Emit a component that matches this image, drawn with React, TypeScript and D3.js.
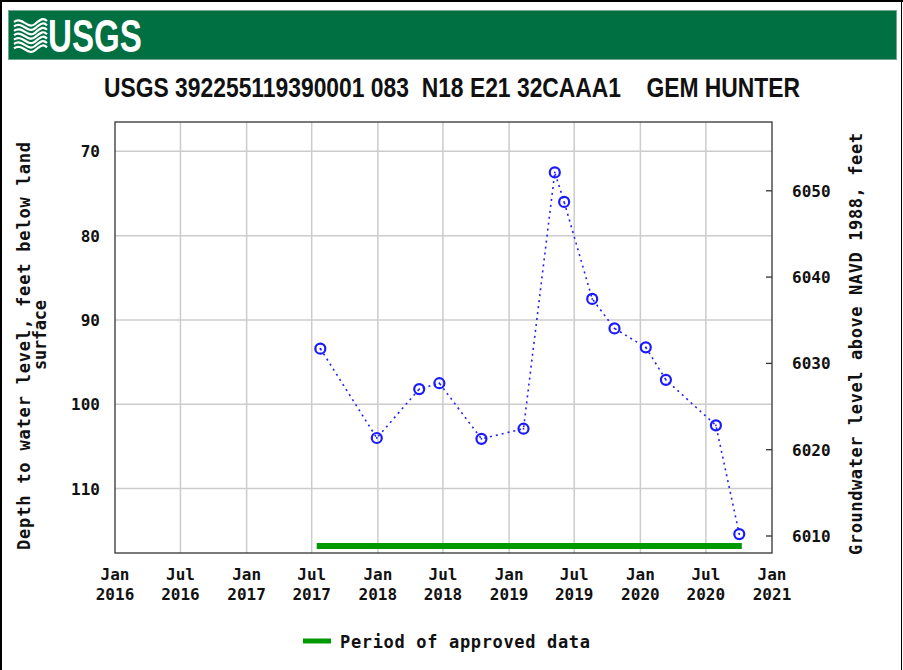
import * as d3 from "d3";

const dates = [
  "2017-07-25", "2017-12-29", "2018-04-26", "2018-06-21", "2018-10-16",
  "2019-02-10", "2019-05-08", "2019-06-03", "2019-08-20", "2019-10-21",
  "2020-01-16", "2020-03-12", "2020-07-29", "2020-10-02",
];
const depths = [
  93.4, 104.0, 98.2, 97.5, 104.1,
  102.9, 72.5, 76.0, 87.5, 91.0,
  93.25, 97.1, 102.5, 115.4,
];
const approvedPeriod = ["2017-07-15", "2020-10-09"];
const xTicks = [
  "2016-01-01", "2016-07-01", "2017-01-01", "2017-07-01", "2018-01-01", "2018-07-01",
  "2019-01-01", "2019-07-01", "2020-01-01", "2020-07-01", "2021-01-01",
];
const leftTicks = [70, 80, 90, 100, 110];
const rightTicks = [6010, 6020, 6030, 6040, 6050];

const title = "USGS 392255119390001 083  N18 E21 32CAAA1    GEM HUNTER";
const width = 903;
const height = 670;
const margin = { top: 122, right: 131, bottom: 117, left: 115 };
const mono = "'DejaVu Sans Mono', monospace";
const sans = "'Liberation Sans', Arial, sans-serif";

const App = () => {
  const parse = d3.timeParse("%Y-%m-%d");
  const innerW = width - margin.left - margin.right;
  const innerH = height - margin.top - margin.bottom;

  const x = d3.scaleTime()
    .domain([parse("2016-01-01")!, parse("2021-01-01")!])
    .range([0, innerW]);
  const y = d3.scaleLinear().domain([66.52, 117.64]).range([0, innerH]);
  const y2 = d3.scaleLinear().domain([6057.97, 6008.03]).range([0, innerH]);

  const points = dates.map((d, i) => ({ date: parse(d)!, depth: depths[i] }));
  const line = d3.line<{ date: Date; depth: number }>()
    .x(d => x(d.date))
    .y(d => y(d.depth));
  const fmtMon = d3.timeFormat("%b");
  const fmtYear = d3.timeFormat("%Y");

  return (
    <svg width={width} height={height} style={{ position: "absolute", left: 0, top: 0, background: "#fff" }}>
      {/* outer frame */}
      <line x1={0} y1={1} x2={width} y2={1} stroke="#000" strokeWidth={2} />
      <line x1={1} y1={0} x2={1} y2={height} stroke="#000" strokeWidth={2} />
      <line x1={901.5} y1={0} x2={901.5} y2={height} stroke="#000" strokeWidth={1} />

      {/* header */}
      <rect x={8.5} y={10.5} width={888} height={49} fill="#006f41" stroke="#6fa88a" strokeWidth={1} />
      <g fill="none" stroke="#fff" strokeWidth={2.2}>
        {[0, 1, 2, 3, 4, 5, 6].map(i => (
          <path key={i}
            d={`M14,${22 + i * 4.4} C22,${16 + i * 4.4} 28,${30 + i * 4.4} 35,${24 + i * 4.4} S44,${18 + i * 4.4} 47,${21 + i * 4.4}`} />
        ))}
      </g>
      <text transform="translate(48,52) scale(0.72,1)" fill="#fff" fontFamily={sans}
        fontWeight="bold" fontSize={46}>USGS</text>

      {/* title */}
      <text transform="translate(104,97) scale(0.847,1)" fontFamily={sans} fontWeight="bold"
        fontSize={27} fill="#111" xmlSpace="preserve">{title}</text>

      <g transform={`translate(${margin.left},${margin.top})`}>
        {/* grid */}
        {xTicks.slice(1, -1).map(t => (
          <line key={t} x1={x(parse(t)!)} x2={x(parse(t)!)} y1={0} y2={innerH} stroke="#cccccc" strokeWidth={1.5} />
        ))}
        {leftTicks.map(t => (
          <line key={t} x1={0} x2={innerW} y1={y(t)} y2={y(t)} stroke="#cccccc" strokeWidth={1.5} />
        ))}

        {/* approved period */}
        <line x1={x(parse(approvedPeriod[0])!)} x2={x(parse(approvedPeriod[1])!)}
          y1={innerH - 7} y2={innerH - 7} stroke="#009900" strokeWidth={6} />

        {/* series */}
        <path d={line(points) ?? ""} fill="none" stroke="#2020ff" strokeWidth={1.6} strokeDasharray="2,4" />
        {points.map((p, i) => (
          <g key={i} transform={`translate(${x(p.date)},${y(p.depth)})`}>
            <circle r={5} fill="none" stroke="#1a1aff" strokeWidth={2.2} />
            <circle r={0.9} fill="#1a1aff" />
          </g>
        ))}

        {/* frame */}
        <rect x={0} y={0} width={innerW} height={innerH} fill="none" stroke="#333" strokeWidth={1.3} />

        {/* right ticks */}
        {rightTicks.map(t => (
          <line key={t} x1={innerW - 6} x2={innerW} y1={y2(t)} y2={y2(t)} stroke="#333" strokeWidth={1.3} />
        ))}

        {/* left labels */}
        {leftTicks.map(t => (
          <text key={t} x={-15} y={y(t) + 6} textAnchor="end" fontFamily={mono} fontWeight="bold"
            fontSize={16} fill="#111">{t}</text>
        ))}
        {/* right labels */}
        {rightTicks.map(t => (
          <text key={t} x={innerW + 20} y={y2(t) + 6} fontFamily={mono} fontWeight="bold"
            fontSize={16} fill="#111">{t}</text>
        ))}
        {/* x labels */}
        {xTicks.map(t => (
          <g key={t} transform={`translate(${x(parse(t)!)},0)`} fontFamily={mono} fontWeight="bold" fontSize={16}
            fill="#111" textAnchor="middle">
            <text y={innerH + 27}>{fmtMon(parse(t)!)}</text>
            <text y={innerH + 47}>{fmtYear(parse(t)!)}</text>
          </g>
        ))}
      </g>

      {/* axis titles */}
      <text transform="translate(30,346) rotate(-90)" textAnchor="middle" fontFamily={mono} fontWeight="bold"
        fontSize={17} fill="#111" textLength={408} lengthAdjust="spacing">Depth to water level, feet below land</text>
      <text transform="translate(46,335) rotate(-90)" textAnchor="middle" fontFamily={mono} fontWeight="bold"
        fontSize={17} fill="#111" textLength={70} lengthAdjust="spacing">surface</text>
      <text transform="translate(862,344) rotate(-90)" textAnchor="middle" fontFamily={mono} fontWeight="bold"
        fontSize={17} fill="#111" textLength={422} lengthAdjust="spacing">Groundwater level above NAVD 1988, feet</text>

      {/* legend */}
      <line x1={303} x2={331} y1={641} y2={641} stroke="#009900" strokeWidth={5} />
      <text x={340} y={648} fontFamily={mono} fontWeight="bold" fontSize={17} fill="#111"
        textLength={250} lengthAdjust="spacing">Period of approved data</text>
    </svg>
  );
};

export default App;
